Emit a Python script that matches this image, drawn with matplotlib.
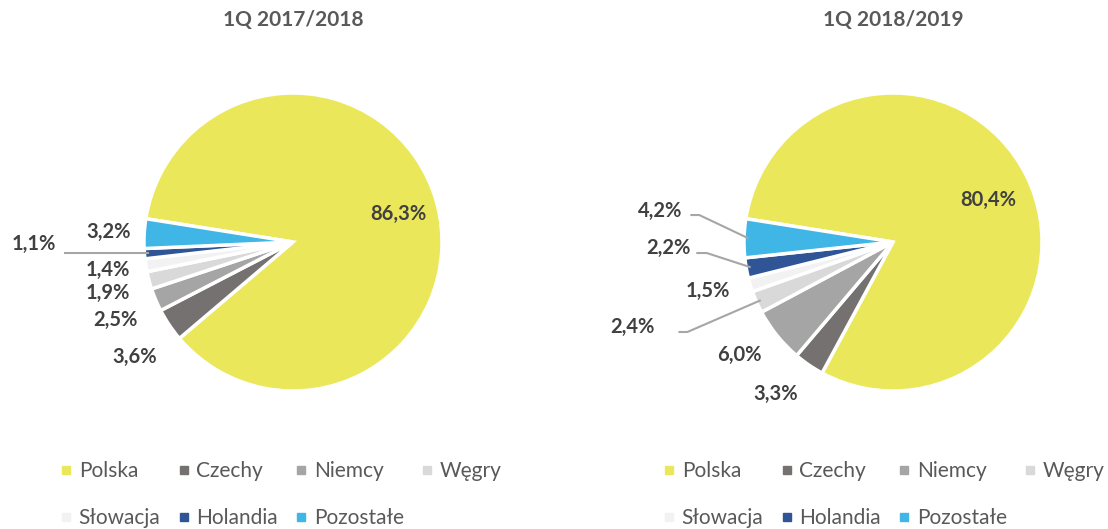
import matplotlib.pyplot as plt
from matplotlib.lines import Line2D
import numpy as np

plt.rcParams['font.family'] = ['Lato', 'DejaVu Sans']

countries = ['Polska', 'Czechy', 'Niemcy', 'Węgry', 'Słowacja', 'Holandia', 'Pozostałe']
colors = ['#EAE85A', '#767171', '#A5A5A5', '#D9D9D9', '#F2F2F2', '#2F5597', '#3FB6E6']

titles = ['1Q 2017/2018', '1Q 2018/2019']
share_1718 = [86.3, 3.6, 2.5, 1.9, 1.4, 1.1, 3.2]
share_1819 = [80.4, 3.3, 6.0, 2.4, 1.5, 2.2, 4.2]

# label positions (pie radius = 1), hand-placed like in the original
lbl_pos_1718 = [(0.71, 0.19), (-1.06, -0.77), (-1.19, -0.52), (-1.24, -0.34),
                (-1.24, -0.19), (-1.74, -0.01), (-1.24, 0.07)]
lbl_pos_1819 = [(0.64, 0.28), (-0.79, -1.02), (-1.03, -0.76), (-1.75, -0.57),
                (-1.24, -0.33), (-1.51, -0.04), (-1.56, 0.21)]
# leader lines: index of slice -> points from label side
leaders_1718 = {5: [(-1.54, -0.072)]}
leaders_1819 = {6: [(-1.36, 0.181), (-1.30, 0.181)],
                5: [(-1.32, -0.074), (-1.25, -0.074)],
                3: [(-1.44, -0.604), (-1.38, -0.604)]}

W, H = 1108, 529
S = 149.0  # pixels per radius unit
cy = 242
fig = plt.figure(figsize=(W / 100, H / 100), dpi=100)

panels = [(0, 554, 293, share_1718, lbl_pos_1718, leaders_1718, 60),
          (554, 1108, 893, share_1819, lbl_pos_1819, leaders_1819, 663)]

for i, (x0, x1, cx, vals, lpos, leads, legx) in enumerate(panels):
    ax = fig.add_axes([x0 / W, 0, (x1 - x0) / W, 1])
    wedges, _ = ax.pie(vals, colors=colors, startangle=171, counterclock=False,
                       radius=1, wedgeprops=dict(edgecolor='white', linewidth=2.5))
    ax.set_xlim((x0 - cx) / S, (x1 - cx) / S)
    ax.set_ylim((cy - H) / S, cy / S)
    ax.set_aspect('auto')
    ax.axis('off')
    ax.text(0, (cy - 20) / S, titles[i], ha='center', va='center',
            fontsize=15, fontweight='bold', color='#595959')
    for v, (lx, ly) in zip(vals, lpos):
        ax.text(lx, ly, f'{v:.1f}%'.replace('.', ','), ha='center', va='center',
                fontsize=14.5, fontweight='bold', color='#404040')
    for k, pts in leads.items():
        w = wedges[k]
        mid = np.deg2rad((w.theta1 + w.theta2) / 2)
        xs = [p[0] for p in pts] + [0.97 * np.cos(mid)]
        ys = [p[1] for p in pts] + [0.97 * np.sin(mid)]
        if len(pts) == 1:
            ys[-1] = ys[0]
        ax.plot(xs, ys, color='#A6A6A6', lw=1.5, solid_capstyle='butt')

    order = [0, 4, 1, 5, 2, 6, 3]
    handles = [Line2D([], [], ls='none', marker='s', markersize=6,
                      markerfacecolor=colors[j], markeredgecolor=colors[j]) for j in order]
    labels = [countries[j] for j in order]
    fig.legend(handles, labels, loc='upper left', ncol=4,
               bbox_to_anchor=(legx / W, 1 - 461 / H), frameon=False,
               fontsize=15, labelcolor='#595959', handlelength=0.6,
               handletextpad=0.3, columnspacing=0.82, labelspacing=1.3,
               borderpad=0, borderaxespad=0)

fig.savefig('out.png', dpi=100)
